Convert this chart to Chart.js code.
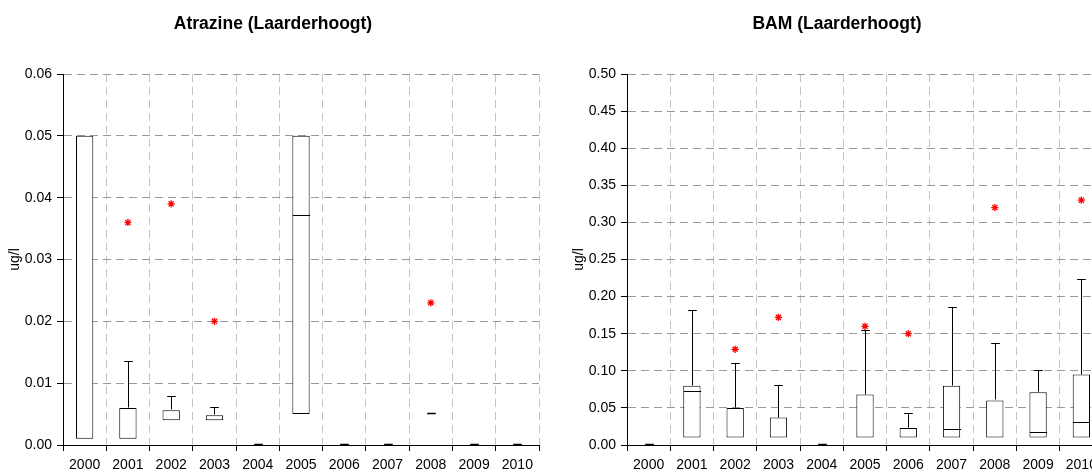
<!DOCTYPE html>
<html>
<head>
<meta charset="utf-8">
<script src="https://cdn.jsdelivr.net/npm/chart.js@4/dist/chart.umd.min.js"></script>
<style>
html, body { margin: 0; padding: 0; background: #fff; overflow: hidden; width: 1092px; height: 472px; }
canvas { position: absolute; top: 0; }
#atrazine { left: 0; }
#bam { left: 564px; }
</style>
</head>
<body>
<canvas id="atrazine" width="558" height="472"></canvas>
<canvas id="bam" width="558" height="472"></canvas>
<script>
var years = ['2000', '2001', '2002', '2003', '2004', '2005', '2006', '2007', '2008', '2009', '2010'];

// Atrazine (Laarderhoogt)
var atrMin = [0.001, 0.001, 0.004, 0.004, 0, 0.005, 0, 0, 0.005, 0, 0];
var atrQ1 = [0.001, 0.001, 0.004, 0.004, 0, 0.005, 0, 0, 0.005, 0, 0];
var atrMed = [0.05, 0.001, 0.004, 0.004, 0, 0.037, 0, 0, 0.005, 0, 0];
var atrQ3 = [0.05, 0.006, 0.0056, 0.0048, 0, 0.05, 0, 0, 0.005, 0, 0];
var atrMax = [0.05, 0.0135, 0.0078, 0.006, 0, 0.05, 0, 0, 0.005, 0, 0];
var atrOut = [null, 0.036, 0.039, 0.020, null, null, null, null, 0.023, null, null];
var atrTicks = [0, 0.06, 0.01];

// BAM (Laarderhoogt)
var bamMin = [0, 0.01, 0.01, 0.01, 0, 0.01, 0.01, 0.01, 0.01, 0.01, 0.01];
var bamQ1 = [0, 0.01, 0.01, 0.01, 0, 0.01, 0.01, 0.01, 0.01, 0.01, 0.01];
var bamMed = [0, 0.071, 0.01, 0.01, 0, 0.01, 0.01, 0.02, 0.01, 0.016, 0.03];
var bamQ3 = [0, 0.08, 0.05, 0.037, 0, 0.068, 0.023, 0.08, 0.06, 0.071, 0.095];
var bamMax = [0, 0.18, 0.109, 0.079, 0, 0.154, 0.042, 0.185, 0.136, 0.10, 0.223];
var bamOut = [null, null, 0.129, 0.172, null, 0.16, 0.15, null, 0.32, null, 0.33];
var bamTicks = [0, 0.5, 0.05];

var FONT = 'Liberation Sans, Arial, sans-serif';

// whiskers, caps and medians on top of the boxes
var whiskers = {
    id: 'whiskers',
    afterDatasetDraw: function(chart, args) {
        if (args.index !== 0) return;
        var s = chart.data.datasets[0].stats;
        var xs = chart.scales.x, ys = chart.scales.y, ctx = chart.ctx;
        var bw = (xs.getPixelForValue(1) - xs.getPixelForValue(0)) * 0.4;
        var cw = bw / 2;
        var py = function(v) { return Math.round(ys.getPixelForValue(v)) - 0.5; };
        var seg = function(x1, y1, x2, y2) {
            ctx.beginPath(); ctx.moveTo(x1, y1); ctx.lineTo(x2, y2); ctx.stroke();
        };
        ctx.save();
        ctx.strokeStyle = '#000';
        ctx.lineWidth = 1;
        for (var i = 0; i < years.length; i++) {
            var x = Math.round(xs.getPixelForValue(i)) + 0.5;
            if (s.max[i] > s.q3[i]) {
                seg(x, py(s.q3[i]), x, py(s.max[i]));
                seg(x - cw / 2, py(s.max[i]), x + cw / 2, py(s.max[i]));
            }
            if (s.min[i] < s.q1[i]) {
                seg(x, py(s.q1[i]), x, py(s.min[i]));
                seg(x - cw / 2, py(s.min[i]), x + cw / 2, py(s.min[i]));
            }
            if (s.q3[i] > s.q1[i]) {
                if (s.med[i] > s.q1[i] && s.med[i] < s.q3[i]) {
                    seg(x - bw / 2, py(s.med[i]), x + bw / 2, py(s.med[i]));
                }
            } else {
                ctx.lineWidth = 1.5;
                seg(x - cw / 2, py(s.max[i]), x + cw / 2, py(s.max[i]));
                ctx.lineWidth = 1;
            }
        }
        ctx.restore();
    }
};

function makeChart(id, title, min, q1, med, q3, max, out, tk) {
    return new Chart(document.getElementById(id), {
        type: 'bar',
        data: {
            labels: years,
            datasets: [{
                data: years.map(function(_, i) { return q3[i] > q1[i] ? [q1[i], q3[i]] : null; }),
                stats: { min: min, q1: q1, med: med, q3: q3, max: max },
                backgroundColor: '#fff',
                borderColor: '#000',
                borderWidth: 1,
                borderSkipped: false,
                barPercentage: 0.4,
                categoryPercentage: 1,
                order: 2
            },
            {
                type: 'line',
                data: out,
                showLine: false,
                pointStyle: 'star',
                pointRadius: 3.6,
                pointBorderColor: '#f00',
                pointBackgroundColor: '#f00',
                pointBorderWidth: 1.3,
                order: 1
            }]
        },
        options: {
            responsive: false,
            animation: false,
            layout: { padding: { left: 7, right: 19, top: 0, bottom: 0 } },
            plugins: {
                legend: { display: false },
                tooltip: { enabled: false },
                title: {
                    display: true,
                    text: title,
                    color: '#000',
                    font: { family: FONT, size: 17.5, weight: 'bold' },
                    padding: { top: 14, bottom: 39 }
                }
            },
            scales: {
                x: {
                    grid: { offset: true, color: '#c4c4c4', tickColor: '#000', tickLength: 6, tickBorderDash: [] },
                    border: { display: true, color: '#000', dash: [8, 5] },
                    ticks: { color: '#000', font: { family: FONT, size: 14 }, padding: 6, maxRotation: 0, autoSkip: false },
                    afterFit: function(s) { s.height = 27; }
                },
                y: {
                    min: tk[0],
                    max: tk[1],
                    grid: { color: '#999', tickColor: '#000', tickLength: 6, tickBorderDash: [] },
                    border: { display: true, color: '#000', dash: [8, 5] },
                    ticks: {
                        stepSize: tk[2],
                        color: '#000',
                        padding: 5,
                        font: { family: FONT, size: 14 },
                        callback: function(v) { return v.toFixed(2); }
                    },
                    title: { display: true, text: 'ug/l', color: '#000', font: { family: FONT, size: 14 }, padding: 0 },
                    afterFit: function(s) { s.width = 56; }
                }
            }
        },
        plugins: [whiskers]
    });
}

makeChart('atrazine', 'Atrazine (Laarderhoogt)', atrMin, atrQ1, atrMed, atrQ3, atrMax, atrOut, atrTicks);
makeChart('bam', 'BAM (Laarderhoogt)', bamMin, bamQ1, bamMed, bamQ3, bamMax, bamOut, bamTicks);
</script>
</body>
</html>
